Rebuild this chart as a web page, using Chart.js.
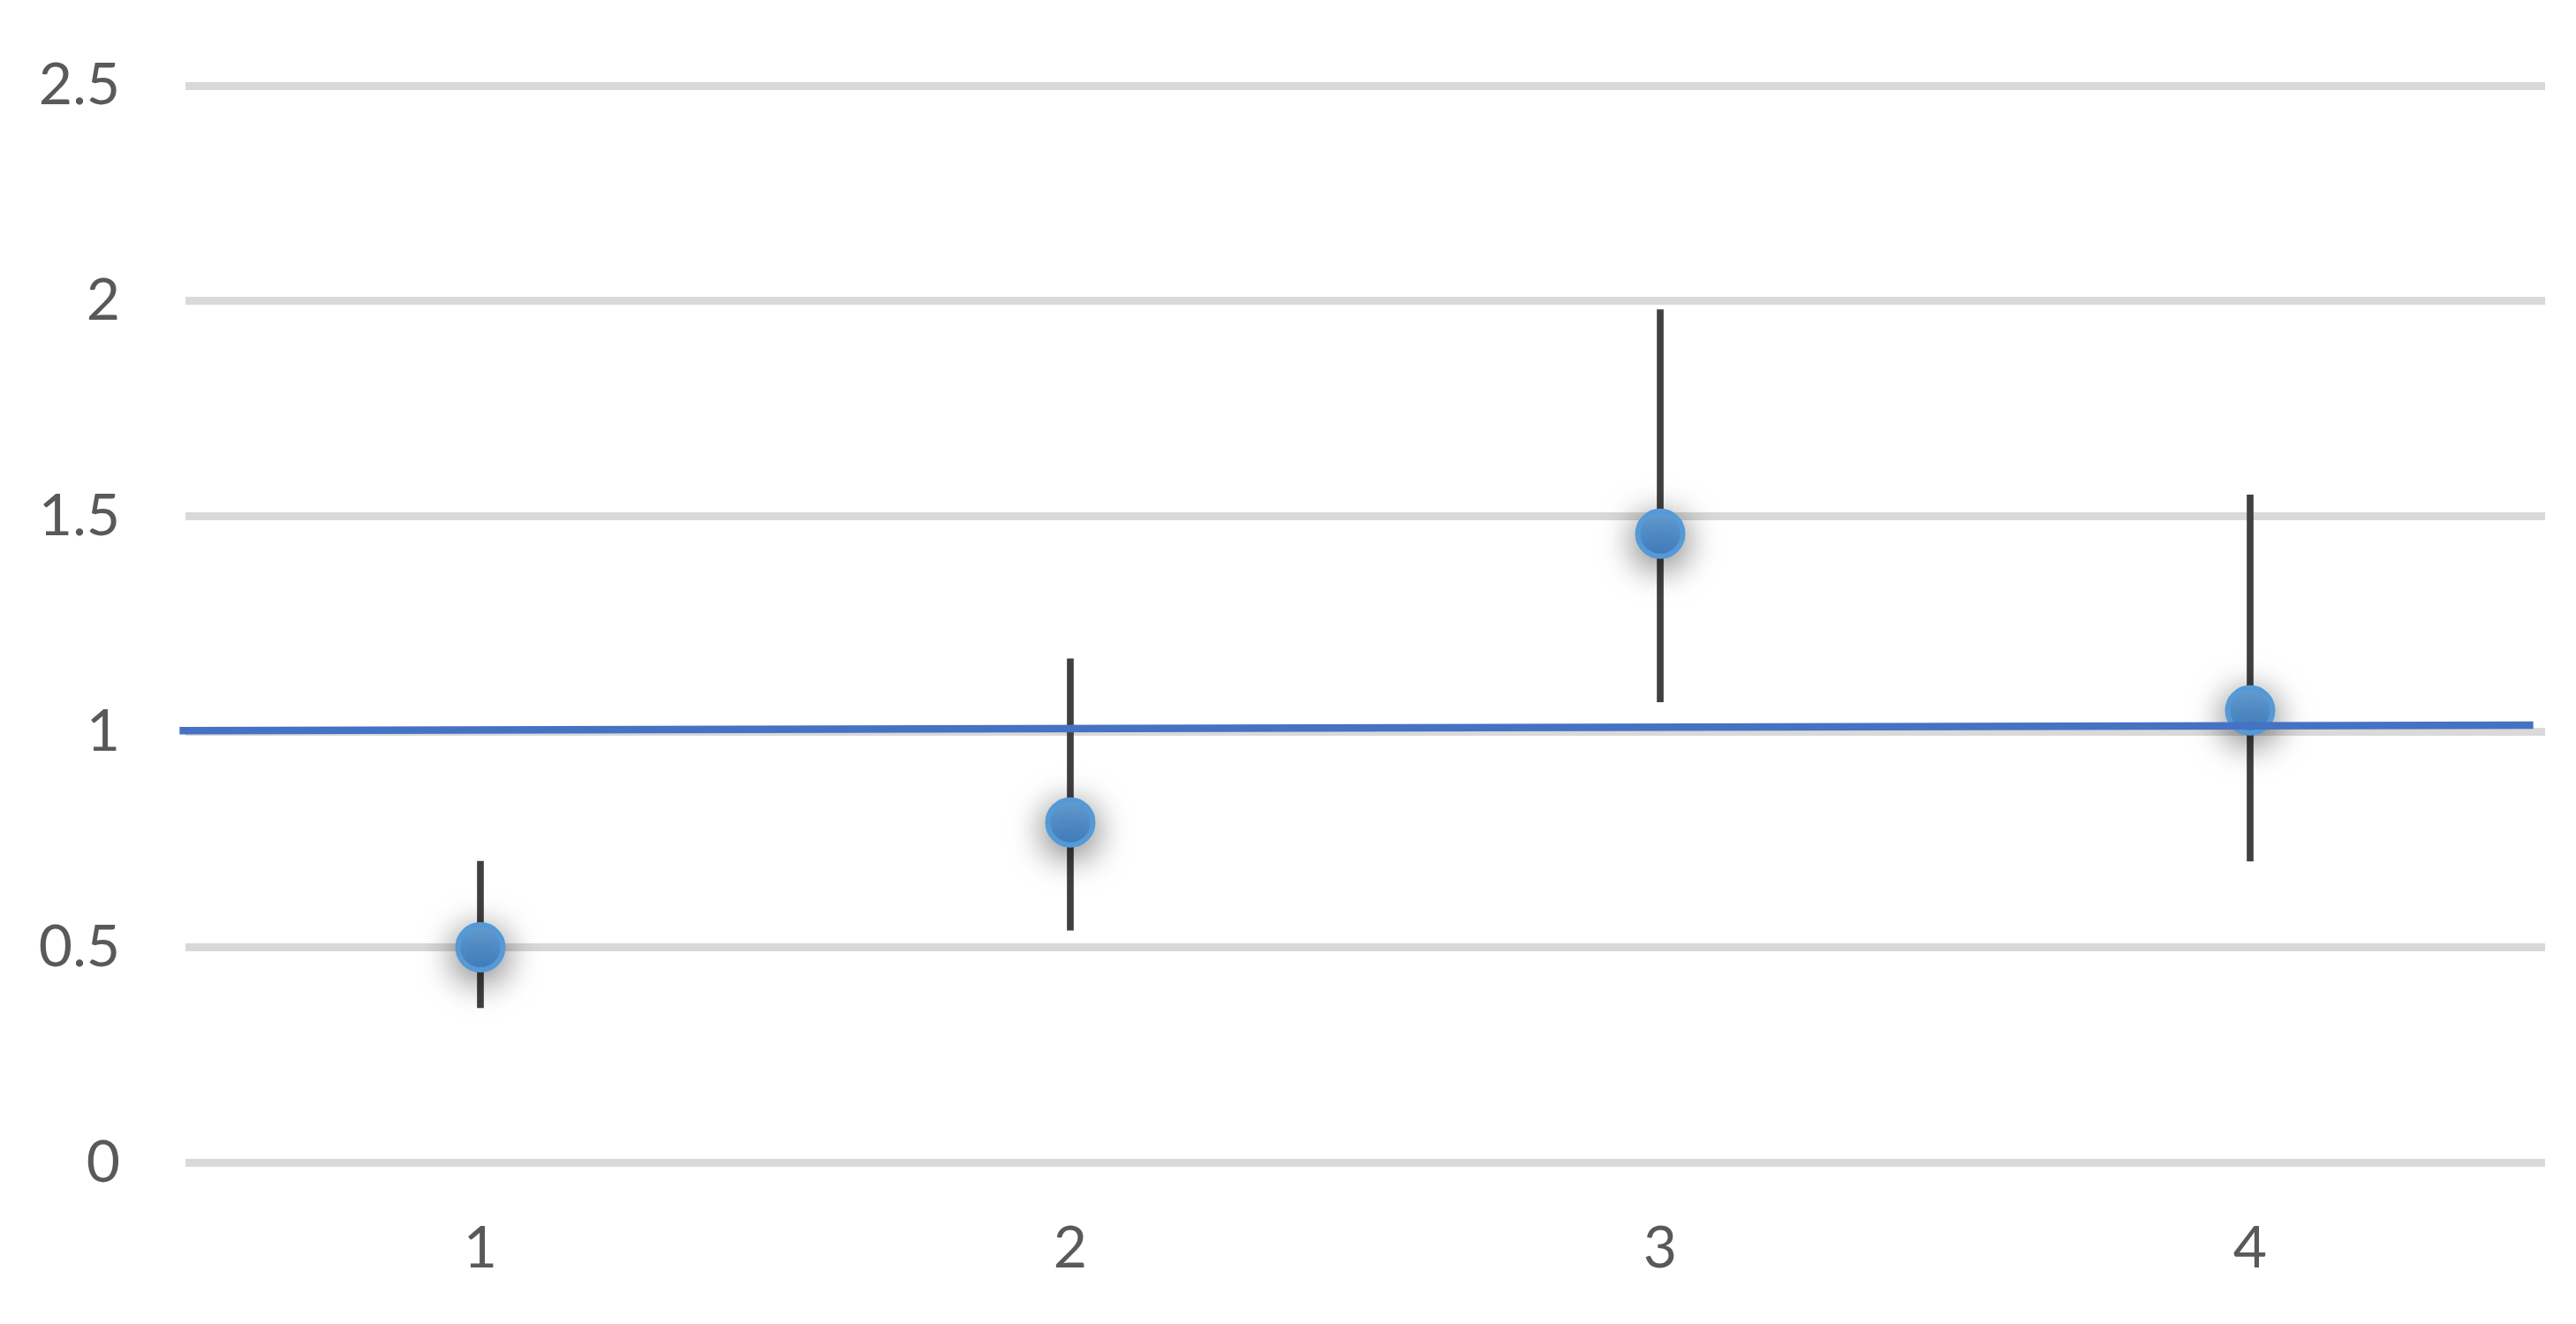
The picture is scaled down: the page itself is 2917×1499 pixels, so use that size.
<!DOCTYPE html>
<html>
<head>
<meta charset="utf-8">
<script src="https://cdn.jsdelivr.net/npm/chart.js@4/dist/chart.umd.min.js"></script>
<style>
  html, body { margin: 0; padding: 0; background: #ffffff; }
  canvas { display: block; }
</style>
</head>
<body>
<canvas id="c" width="2917" height="1499"></canvas>
<script>
// ---- data ----
const categories = [1, 2, 3, 4];
const values     = [0.50, 0.79, 1.46, 1.05];
const errLow     = [0.36, 0.54, 1.07, 0.70];
const errHigh    = [0.70, 1.17, 1.98, 1.55];
const refLineX   = [0.49, 4.48];
const refLineY   = [1.003, 1.016];
const yTicks     = [0, 0.5, 1, 1.5, 2, 2.5];
const xTicks     = [1, 2, 3, 4];

const pointData = categories.map((c, i) => ({ x: c, y: values[i] }));
const errData   = categories.map((c, i) => ({ x: c, y: [errLow[i], errHigh[i]] }));
const lineData  = refLineX.map((x, i) => ({ x: x, y: refLineY[i] }));

const shadowPlugin = {
  id: 'markerShadow',
  beforeDatasetDraw(chart, args) {
    if (args.meta.type === 'scatter') {
      const ctx = chart.ctx;
      ctx.save();
      ctx.shadowColor = 'rgba(0,0,0,0.55)';
      ctx.shadowBlur = 40;
      ctx.shadowOffsetX = 0;
      ctx.shadowOffsetY = 9;
    }
  },
  afterDatasetDraw(chart, args) {
    if (args.meta.type === 'scatter') chart.ctx.restore();
  }
};

function pointFill(context) {
  const chart = context.chart;
  const el = context.element;
  if (!el || el.y === undefined || isNaN(el.y)) return '#5b9bd5';
  const g = chart.ctx.createLinearGradient(0, el.y - 25, 0, el.y + 25);
  g.addColorStop(0, '#6aa7de');
  g.addColorStop(1, '#4688ce');
  return g;
}

new Chart(document.getElementById('c'), {
  type: 'scatter',
  data: {
    datasets: [
      {
        type: 'line',
        label: 'ref',
        data: lineData,
        borderColor: '#4472c4',
        borderWidth: 8.5,
        pointRadius: 0,
        fill: false,
        clip: false,
        order: 0
      },
      {
        type: 'scatter',
        label: 'values',
        data: pointData,
        pointRadius: 25.5,
        pointBorderWidth: 6,
        pointBorderColor: '#5599d6',
        pointBackgroundColor: pointFill,
        order: 1
      },
      {
        type: 'bar',
        label: 'err',
        data: errData,
        backgroundColor: '#404040',
        borderWidth: 0,
        barThickness: 7,
        grouped: false,
        order: 2
      }
    ]
  },
  options: {
    responsive: false,
    devicePixelRatio: 1,
    animation: false,
    layout: { padding: { top: 97, right: 35, bottom: 0, left: 0 } },
    plugins: { legend: { display: false }, tooltip: { enabled: false } },
    scales: {
      x: {
        type: 'linear',
        min: 0.5,
        max: 4.5,
        offset: false,
        afterBuildTicks: (axis) => { axis.ticks = xTicks.map(v => ({ value: v })); },
        afterFit: (scale) => {
          scale.height = 182.5;
          scale.paddingLeft = 0;
          scale.paddingRight = 0;
        },
        grid: { display: false, drawTicks: false },
        border: { display: false },
        ticks: {
          padding: 58,
          color: '#595959',
          font: { family: 'Lato', size: 66 },
          maxRotation: 0,
          callback: (v) => String(v)
        }
      },
      y: {
        type: 'linear',
        min: 0,
        max: 2.5,
        afterBuildTicks: (axis) => { axis.ticks = yTicks.map(v => ({ value: v })); },
        afterFit: (scale) => {
          scale.width = 210;
          scale.paddingTop = 0;
          scale.paddingBottom = 0;
        },
        grid: { color: '#d9d9d9', lineWidth: 9, drawTicks: false },
        border: { display: false },
        ticks: {
          padding: 74,
          color: '#595959',
          font: { family: 'Lato', size: 66 },
          callback: (v) => String(v)
        }
      }
    }
  },
  plugins: [shadowPlugin]
});
</script>
</body>
</html>
